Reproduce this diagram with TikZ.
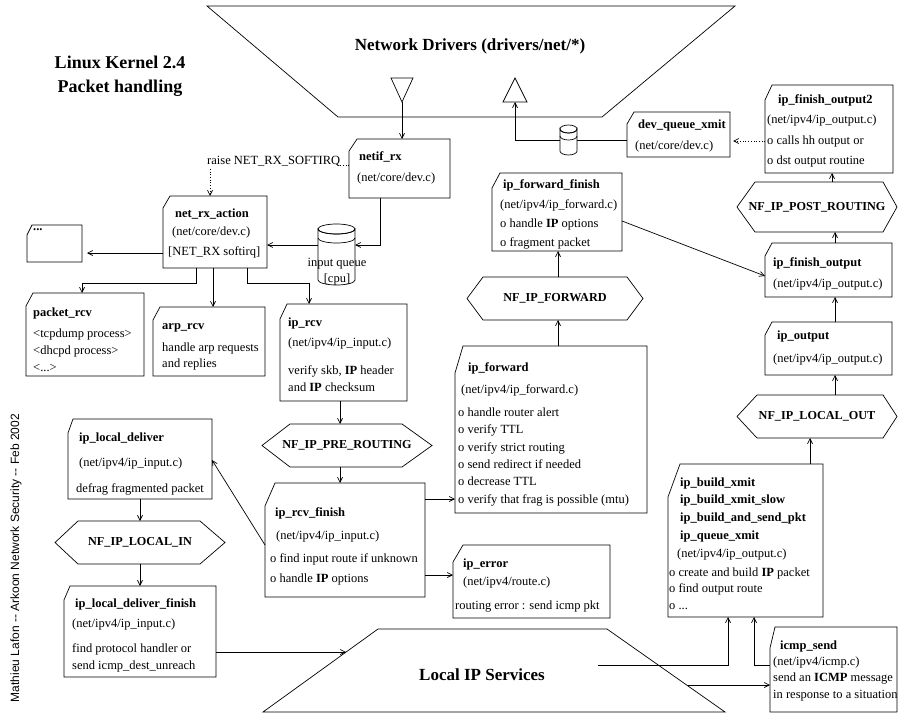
\documentclass[tikz,border=0pt]{standalone}
\usepackage{fontspec}
\setmainfont{Liberation Serif}
\newfontfamily\credfont{Liberation Sans}
\usetikzlibrary{arrows.meta,fit,calc}
\newcounter{tln}
\newcommand{\txtline}[4][]{\stepcounter{tln}\node[txt,#1] (tl\thetln) at (#2,#3) {#4};}
\newcommand{\mkcutbox}[7]{%
  \node[inner sep=0, outer sep=0, fit={(#2,#3) (#4,#5)}] (#1) {};
  \draw[ln] ($(#1.north west)+(#6,0)$) -- (#1.north east) -- (#1.south east) -- (#1.south west) -- ($(#1.north west)+(0,#7)$) -- cycle;}
\newcommand{\mkhexa}[8]{%
  \node[inner sep=0, outer sep=0, fit={(#2,#6) (#5,#7)}] (#1) {};
  \draw[ln] (#1.west) -- (#3,#6) -- (#4,#6) -- (#1.east) -- (#4,#7) -- (#3,#7) -- cycle;
  \node[lbl] (#1-l) at (#1.center) {#8};}
\tikzset{
  ln/.style={line width=0.7pt},
  arr/.style={ln, -{Straight Barb[length=5pt,width=5pt,line width=0.7pt]}},
  txt/.style={font=\fontsize{12.5}{15}\selectfont, anchor=base west, inner sep=0, yshift=-4pt},
  ctxt/.style={txt, anchor=base},
  hd/.style={font=\fontsize{12.5}{15}\selectfont\bfseries},
  lbl/.style={font=\fontsize{12.2}{15}\selectfont\bfseries, inner sep=0},
  big/.style={font=\fontsize{17}{20}\selectfont\bfseries, inner sep=0},
  ttl/.style={font=\fontsize{18}{20}\selectfont\bfseries, inner sep=0}
}
\begin{document}
\begin{tikzpicture}[x=1pt,y=-1pt]
\fill[white] (0,0) rectangle (899,714);
\useasboundingbox (0,0) rectangle (899,714);

% titles
\node[ttl] (title1) at (120,62) {Linux Kernel 2.4};
\node[ttl] (title2) at (120,88) {Packet handling};
\node[rotate=90, inner sep=0, font={\credfont\fontsize{12}{14}\selectfont}] (cred) at (16,558) {Mathieu Lafon -- Arkoon Network Security -- Feb 2002};

% Network drivers
\draw[ln] (207,6) -- (735,6) -- (602,117) -- (338,117) -- cycle;
\node[big] (nd) at (470,46) {Network Drivers (drivers/net/*)};
\draw[ln] (391,78) -- (413,78) -- (402,102) -- cycle;
\coordinate (rxT) at (402,102);
\draw[ln] (503,102) -- (527,102) -- (515,78) -- cycle;
\coordinate (txT) at (515,102);

% netif_rx
\mkcutbox{netif}{349}{139}{450}{198}{8}{12}
\txtline[hd]{359}{157}{netif\_rx}
\txtline{357}{178}{(net/core/dev.c)}
\draw[arr] (rxT) -- (netif.north -| rxT);

% raise softirq
\node[txt] (raise) at (207,161) {raise NET\_RX\_SOFTIRQ};
\coordinate (dv) at (210,169);
\draw[ln,dotted] (netif.west |- 0,165) -- (raise.east |- 0,165);
\draw[arr,dotted] (dv) -- (210,196);

% net_rx_action
\mkcutbox{rxact}{163}{196}{267}{268}{7}{12}
\txtline[hd]{175}{213}{net\_rx\_action}
\txtline{172}{231}{(net/core/dev.c)}
\txtline{168}{251}{[NET\_RX softirq]}

% dots box
\mkcutbox{dots}{27}{225}{82}{262}{5}{10}
\txtline[hd]{33}{226}{...}

% input queue cylinder
\node[inner sep=0, outer sep=0, fit={(318,224) (355,285)}] (iq) {};
\draw[ln, fill=white] (318,229) -- (318,280) arc[start angle=180,end angle=0,x radius=18.5,y radius=5] -- (355,229) arc[start angle=0,end angle=180,x radius=18.5,y radius=5] -- cycle;
\draw[ln] (336.5,229) ellipse[x radius=18.5,y radius=5];
\draw[ln] (318,238) arc[start angle=180,end angle=0,x radius=18.5,y radius=5];
\txtline[ctxt]{337}{258}{input queue}
\txtline[ctxt]{337}{274}{[cpu]}

\draw[arr] (netif.south -| 380,0) |- (iq.east |- 0,245);
\draw[arr] (iq.west |- 0,245) -- (rxact.east |- 0,245);
\draw[arr] (rxact.west |- 0,253) -- ([xshift=5pt]dots.east |- 0,253);

% packet_rcv
\mkcutbox{pkt}{26}{293}{144}{376}{7}{13}
\txtline[hd]{33}{312}{packet\_rcv}
\txtline{33}{333}{<tcpdump process>}
\txtline{33}{350}{<dhcpd process>}
\txtline{33}{367}{<...>}

% arp_rcv
\mkcutbox{arp}{153}{307}{265}{376}{7}{13}
\txtline[hd]{162}{325}{arp\_rcv}
\txtline{162}{347}{handle arp requests}
\txtline{162}{363}{and replies}

% ip_rcv
\mkcutbox{iprcv}{280}{304}{407}{401}{7}{15}
\txtline[hd]{288}{322}{ip\_rcv}
\txtline{288}{342}{(net/ipv4/ip\_input.c)}
\txtline{288}{370}{verify skb, \textbf{IP} header}
\txtline{288}{387}{and \textbf{IP} checksum}

\draw[arr] (rxact.south -| 196,0) -- (196,283) -- (82,283) -- (pkt.north -| 82,0);
\draw[arr] (rxact.south -| 213,0) -- (arp.north -| 213,0);
\draw[arr] (rxact.south -| 247,0) -- (247,283) -- (309,283) -- (iprcv.north -| 309,0);

% PRE_ROUTING
\mkhexa{pre}{262}{290}{402}{432}{424}{467}{NF\_IP\_PRE\_ROUTING}
\draw[arr] (iprcv.south -| 340,0) -- (pre.north -| 340,0);

% ip_rcv_finish
\mkcutbox{iprf}{265}{483}{425}{597}{10}{23}
\txtline[hd]{275}{512}{ip\_rcv\_finish}
\txtline{276}{535}{(net/ipv4/ip\_input.c)}
\txtline{270}{558}{o find input route if unknown}
\txtline{270}{578}{o handle \textbf{IP} options}
\draw[arr] (pre.south -| 340,0) -- (iprf.north -| 340,0);

% ip_error
\mkcutbox{iperr}{453}{545}{610}{618}{10}{17}
\txtline[hd]{463}{563}{ip\_error}
\txtline{463}{581}{(net/ipv4/route.c)}
\txtline{455}{605}{routing error : send icmp pkt}

% ip_forward
\mkcutbox{fwd}{455}{346}{647}{513}{8}{27}
\txtline[hd]{468}{367}{ip\_forward}
\txtline{461}{389}{(net/ipv4/ip\_forward.c)}
\txtline{458}{412}{o handle router alert}
\txtline{458}{429}{o verify TTL}
\txtline{458}{447}{o verify strict routing}
\txtline{458}{464}{o send redirect if needed}
\txtline{458}{481}{o decrease TTL}
\txtline{458}{499}{o verify that frag is possible (mtu)}

\draw[arr] (iprf.east |- 0,499) -- (fwd.west |- 0,499);
\draw[arr] (iprf.east |- 0,575) -- (iperr.west |- 0,575);

% NF_IP_FORWARD
\mkhexa{fw}{467}{483}{627}{643}{277}{320}{NF\_IP\_FORWARD}
\draw[arr] (fwd.north -| 558,0) -- (fw.south -| 558,0);

% ip_forward_finish
\mkcutbox{fwf}{492}{173}{622}{251}{8}{15}
\txtline[hd]{503}{185}{ip\_forward\_finish}
\txtline{500}{204}{(net/ipv4/ip\_forward.c)}
\txtline{500}{223}{o handle \textbf{IP} options}
\txtline{500}{242}{o fragment packet}
\draw[arr] (fw.north -| 558,0) -- (fwf.south -| 558,0);

% ip_finish_output
\mkcutbox{ipfo}{765}{243}{892}{297}{7}{13}
\txtline[hd]{773}{262}{ip\_finish\_output}
\txtline{773}{283}{(net/ipv4/ip\_output.c)}
\draw[arr] (fwf.east |- 0,221) -- (ipfo.west |- 0,276);

% POST_ROUTING
\mkhexa{post}{737}{755}{883}{897}{182}{232}{NF\_IP\_POST\_ROUTING}
\draw[arr] (ipfo.north -| 835,0) -- (post.south -| 835,0);

% ip_finish_output2
\mkcutbox{ipfo2}{765}{85}{893}{173}{7}{15}
\txtline[hd]{778}{100}{ip\_finish\_output2}
\txtline{767}{120}{(net/ipv4/ip\_output.c)}
\txtline{767}{141}{o calls hh output or}
\txtline{767}{161}{o dst output routine}
\draw[arr] (post.north -| 832,0) -- (ipfo2.south -| 832,0);

% dev_queue_xmit
\mkcutbox{dqx}{627}{112}{730}{157}{7}{12}
\txtline[hd]{638}{125}{dev\_queue\_xmit}
\txtline{635}{146}{(net/core/dev.c)}
\draw[arr,dotted] (ipfo2.west |- 0,141) -- ([xshift=3pt]dqx.east |- 0,141);

% output queue cylinder
\node[inner sep=0, outer sep=0, fit={(560,125) (577,155)}] (oq) {};
\draw[ln] (dqx.west |- 0,140) -- (oq.east |- 0,140);
\draw[arr] (oq.west |- 0,140) -| (txT);
\draw[ln, fill=white] (560,129) -- (560,151) arc[start angle=180,end angle=0,x radius=8.5,y radius=4] -- (577,129) arc[start angle=0,end angle=180,x radius=8.5,y radius=4] -- cycle;
\draw[ln] (568.5,129) ellipse[x radius=8.5,y radius=4];
\draw[ln] (560,136) arc[start angle=180,end angle=0,x radius=8.5,y radius=4];

% ip_output
\mkcutbox{ipo}{765}{322}{892}{375}{7}{13}
\txtline[hd]{777}{335}{ip\_output}
\txtline{773}{358}{(net/ipv4/ip\_output.c)}
\draw[arr] (ipo.north -| 835,0) -- (ipfo.south -| 835,0);

% LOCAL_OUT
\mkhexa{lout}{737}{757}{883}{897}{395}{438}{NF\_IP\_LOCAL\_OUT}
\draw[arr] (lout.north -| 835,0) -- (ipo.south -| 835,0);

% ip_build_xmit
\mkcutbox{bld}{668}{464}{823}{617}{12}{33}
\txtline[hd]{680}{482}{ip\_build\_xmit}
\txtline[hd]{680}{499}{ip\_build\_xmit\_slow}
\txtline[hd]{680}{517}{ip\_build\_and\_send\_pkt}
\txtline[hd]{680}{535}{ip\_queue\_xmit}
\txtline{677}{553}{(net/ipv4/ip\_output.c)}
\txtline{669}{572}{o create and build \textbf{IP} packet}
\txtline{669}{588}{o find output route}
\txtline{669}{605}{o ...}
\draw[arr] (bld.north -| 810,0) -- (lout.south -| 810,0);

% icmp_send
\mkcutbox{icmp}{770}{627}{897}{712}{5}{21}
\txtline[hd]{780}{645}{icmp\_send}
\txtline{773}{661}{(net/ipv4/icmp.c)}
\txtline{773}{677}{send an \textbf{ICMP} message}
\txtline{773}{694}{in response to a situation}

% Local IP services
\draw[ln] (378,629) -- (607,629) -- (725,712) -- (263,712) -- cycle;
\node[big] (lip) at (482,675) {Local IP Services};
\coordinate (lipL) at (346,652);
\coordinate (lipR1) at (598,665);
\coordinate (lipR2) at (688,685);
\draw[arr] (lipR1) -| (bld.south -| 728,0);
\draw[arr] (icmp.west |- 0,665) -| (bld.south -| 754,0);
\draw[arr] (lipR2) -- (icmp.west |- 0,685);

% ip_local_deliver
\mkcutbox{ipld}{68}{419}{212}{499}{5}{14}
\txtline[hd]{79}{437}{ip\_local\_deliver}
\txtline{79}{462}{(net/ipv4/ip\_input.c)}
\txtline{76}{488}{defrag fragmented packet}
\draw[arr] (iprf.west |- 0,545) -- (ipld.east |- 0,460);

% LOCAL_IN
\mkhexa{lin}{55}{78}{200}{225}{521}{564}{NF\_IP\_LOCAL\_IN}
\draw[arr] (ipld.south -| 140,0) -- (lin.north -| 140,0);

% ip_local_deliver_finish
\mkcutbox{ipldf}{64}{586}{216}{677}{6}{14}
\txtline[hd]{75}{603}{ip\_local\_deliver\_finish}
\txtline{72}{623}{(net/ipv4/ip\_input.c)}
\txtline{72}{648}{find protocol handler or}
\txtline{72}{665}{send icmp\_dest\_unreach}
\draw[arr] (lin.south -| 140,0) -- (ipldf.north -| 140,0);
\draw[arr] (ipldf.east |- 0,652) -- (lipL);
\end{tikzpicture}
\end{document}
